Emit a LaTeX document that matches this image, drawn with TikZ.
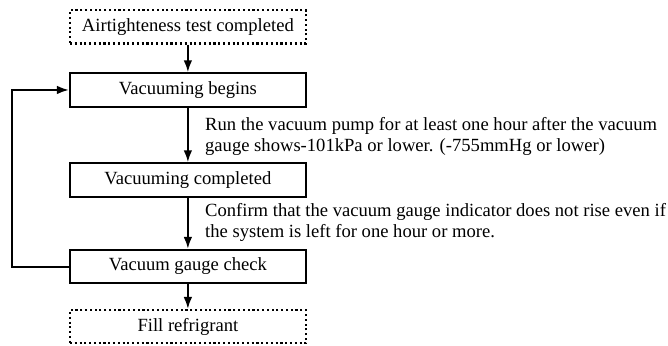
\documentclass[tikz,border=0pt]{standalone}
\usepackage{fontspec}
\setmainfont{Liberation Serif}
\usetikzlibrary{arrows.meta}

\begin{document}
\begin{tikzpicture}[
  step box/.style={draw=black,line width=1.6pt,minimum width=6.24cm,
    minimum height=0.88cm,inner sep=0pt,font=\fontsize{14}{16}\selectfont},
  end box/.style={step box,dotted},
  flow/.style={line width=1.5pt,-{Latex[length=9pt,width=6.5pt]}},
  note/.style={anchor=west,align=left,inner sep=0pt,
    font=\fontsize{14}{15.75}\selectfont}]

  \useasboundingbox (0,0) rectangle (17.67,-9.13);

  \node[end box]  (airtight) at (4.97,-0.71) {Airtighteness test completed};
  \node[step box] (begins)   at (4.97,-2.38) {Vacuuming begins};
  \node[step box] (done)     at (4.97,-4.76) {Vacuuming completed};
  \node[step box] (check)    at (4.97,-7.05) {Vacuum gauge check};
  \node[end box]  (fill)     at (4.97,-8.64) {Fill refrigrant};

  \draw[flow] (airtight) -- (begins);
  \draw[flow] (begins) -- (done);
  \draw[flow] (done) -- (check);
  \draw[flow] (check) -- (fill);
  % back to the start of vacuuming
  \coordinate (loop) at (0.32,0);
  \draw[flow] (check.west) -- (check.west -| loop) -- (begins.west -| loop)
    -- (begins.west);

  \node[note] (pumpnote) at (5.42,-3.6)
    {Run the vacuum pump for at least one hour after the vacuum\\
     gauge shows-101kPa or lower. (-755mmHg or lower)};
  \node[note] (gaugenote) at (5.42,-5.88)
    {Confirm that the vacuum gauge indicator does not rise even if\\
     the system is left for one hour or more.};
\end{tikzpicture}
\end{document}
